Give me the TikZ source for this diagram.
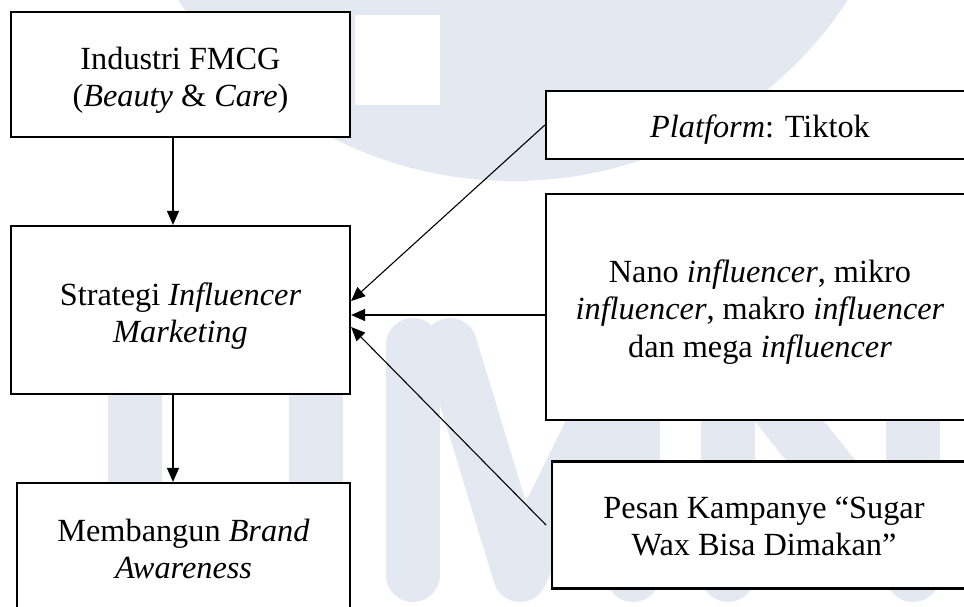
\documentclass[tikz,border=0pt]{standalone}
\usepackage{fontspec}
\setmainfont{Liberation Serif}
\usetikzlibrary{arrows.meta}
\definecolor{wmgrey}{RGB}{228,233,241}
\begin{document}
\begin{tikzpicture}[x=1pt,y=-1pt,
  box/.style={draw=black, line width=2.2pt, fill=white, inner sep=0pt},
  txt/.style={align=center, inner sep=0pt, font=\fontsize{32.3}{37.5}\selectfont},
  link/.style={line width=1.1pt, -{Triangle[length=14pt,width=12pt]}},
  wmstroke/.style={draw=wmgrey, line width=54pt, line cap=round, line join=round}]
\useasboundingbox (0,0) rectangle (964,607);
\clip (0,0) rectangle (964,607);
\fill[white] (0,0) rectangle (964,607);

% faint background logo
\fill[wmgrey] (513,-219) circle[radius=400pt];
\fill[white] (355,15) rectangle (440,105);
% U
\draw[wmstroke] (135,335) -- (135,700);
\draw[wmstroke] (316,335) -- (316,700);
% M
\draw[wmstroke] (413,575) -- (413,345);
\draw[wmstroke] (450,345) -- (520,575) -- (633,345) -- (633,575);
% N
\draw[wmstroke] (728,575) -- (728,345) -- (913,575) -- (913,345);

% boxes
\node[box, minimum width=339pt, minimum height=125pt] (ind) at (180.5,74.5) {};
\node[box, minimum width=339pt, minimum height=168pt] (strat) at (180.5,310) {};
\node[box, minimum width=333pt, minimum height=130pt] (brand) at (183.5,548) {};
\node[box, minimum width=428pt, minimum height=68.5pt] (plat) at (760,125) {};
\node[box, minimum width=428pt, minimum height=226pt] (nano) at (760,307) {};
\node[box, minimum width=424pt, minimum height=127pt] (pesan) at (764,525) {};

% box texts
\node[txt] (indT) at ([yshift=-6pt]ind.center)
  {Industri FMCG\\(\textit{Beauty} \& \textit{Care})};
\node[txt] (stratT) at ([yshift=-6pt]strat.center)
  {Strategi \textit{Influencer}\\\textit{Marketing}};
\node[txt] (brandT) at ([yshift=-1pt]brand.center)
  {Membangun \textit{Brand}\\\textit{Awareness}};
\node[txt] (platT) at ([yshift=-5pt]plat.center)
  {\textit{Platform}: Tiktok};
\node[txt] (nanoT) at ([yshift=-5pt]nano.center)
  {Nano \textit{influencer}, mikro\\\textit{influencer}, makro \textit{influencer}\\dan mega \textit{influencer}};
\node[txt] (pesanT) at ([yshift=-1.5pt]pesan.center)
  {Pesan Kampanye “Sugar\\Wax Bisa Dimakan”};

% connectors
\coordinate (pin) at (546,525);
\draw[link] ([xshift=-7.5pt]ind.south) -- ([xshift=-7.5pt]strat.north);
\draw[link] ([xshift=-7.5pt]strat.south) -- ([xshift=-10.5pt]brand.north);
\draw[link] (plat.west) -- ([yshift=9pt]strat.east);
\draw[link] ([yshift=-8pt]nano.west) -- ([yshift=-5pt]strat.east);
\draw[link] (pin) -- ([yshift=-17pt]strat.east);
\end{tikzpicture}
\end{document}
